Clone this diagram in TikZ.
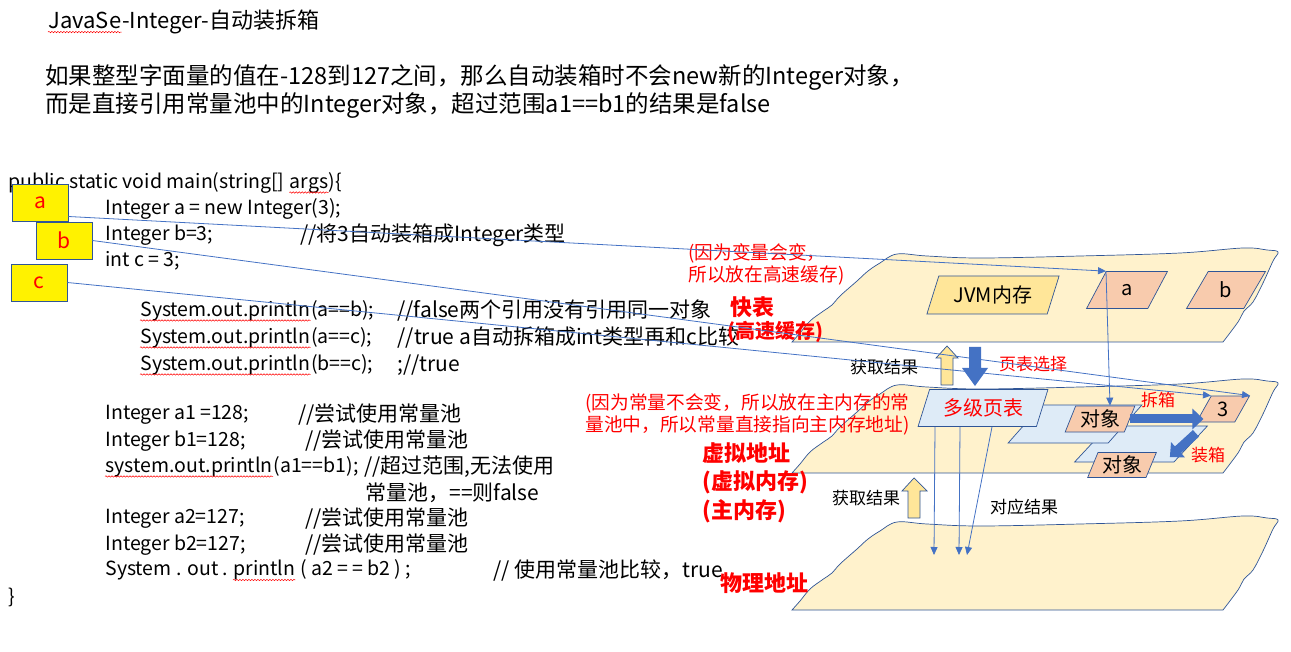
\documentclass[tikz,border=0pt]{standalone}
\usepackage{fontspec}
\setmainfont{Noto Sans CJK SC}
\usetikzlibrary{shapes.geometric,arrows.meta,decorations.pathmorphing}

\definecolor{sheetfill}{HTML}{FFF2CC}
\definecolor{sheetline}{HTML}{2F5597}
\definecolor{jvmfill}{HTML}{FFE699}
\definecolor{peach}{HTML}{F8CBAD}
\definecolor{pgblue}{HTML}{DEEBF7}
\definecolor{linkblue}{HTML}{4472C4}

\begin{document}
\begin{tikzpicture}[x=1pt,y=-1pt,>={Triangle[length=8pt,width=7pt]},line width=.8pt,
  codetxt/.style={anchor=west,inner sep=0pt,font=\fontsize{19.5}{22}\selectfont},
  nexttxt/.style={anchor=base west,inner sep=0pt,font=\fontsize{19.5}{22}\selectfont},
  cmt/.style={anchor=west,inner sep=0pt,font=\fontsize{21}{24}\selectfont},
  redtxt/.style={anchor=west,inner sep=0pt,align=left,text=red,font=\fontsize{18.7}{22}\selectfont},
  bigred/.style={anchor=west,inner sep=0pt,text=red,font=\bfseries\fontsize{22}{26}\selectfont},
  small/.style={inner sep=0pt,font=\fontsize{17}{20}\selectfont},
  ybox/.style={draw=sheetline,fill=yellow,text=red,minimum width=56pt,minimum height=37pt,font=\fontsize{21}{24}\selectfont},
  sheet/.style={draw=sheetline,fill=sheetfill,line width=.7pt},
  slant/.style={trapezium,trapezium left angle=65,trapezium right angle=115,trapezium stretches=true,
    draw=sheetline,line width=.7pt,inner sep=0pt,font=\fontsize{20}{24}\selectfont},
  link/.style={->,draw=linkblue,line width=.8pt},
  spellwave/.style={draw=red,line width=.5pt,decorate,decoration={snake,amplitude=.7pt,segment length=3pt}},
  fatblue/.style={draw=linkblue,line width=9pt,-{Triangle[length=11pt,width=20pt]}},
  fatyel/.style={draw=sheetline,fill=jvmfill,line width=.7pt},
  fatdown/.style={fill=linkblue}]
\useasboundingbox (0,0) rectangle (1291,652);

% heading
\node[anchor=west,inner sep=0pt,font=\fontsize{22}{26}\selectfont] (title) at (48,20) {JavaSe};
\node[nexttxt,font=\fontsize{22}{26}\selectfont] (title2) at (title.base east) {-Integer-自动装拆箱};
\node[anchor=west,inner sep=0pt,align=left,font=\fontsize{23.5}{28}\selectfont] (intro) at (45,91)
  {如果整型字面量的值在-128到127之间，那么自动装箱时不会new新的Integer对象，\\
   而是直接引用常量池中的Integer对象，超过范围a1==b1的结果是false};

% code
\node[codetxt] (c0) at (8,183) {public static void main(string[]\ \null};
\node[nexttxt] (c0a) at (c0.base east) {args};
\node[nexttxt] (c0b) at (c0a.base east) {)\{};
\node[codetxt] (c1) at (105,209) {Integer a = new Integer(3);};
\node[codetxt] (c2) at (105,235) {Integer b=3;};
\node[cmt] (m2) at (300,235) {//将3自动装箱成Integer类型};
\node[codetxt] (c3) at (105,261) {int c = 3;};
\node[codetxt] (c4) at (140,311) {System.out.println};
\node[nexttxt] (c4a) at (c4.base east) {(a==b);};
\node[cmt] (m4) at (397,311) {//false两个引用没有引用同一对象};
\node[codetxt] (c5) at (140,338) {System.out.println};
\node[nexttxt] (c5a) at (c5.base east) {(a==c);};
\node[cmt] (m5) at (397,338) {//true a自动拆箱成int类型再和c比较};
\node[codetxt] (c6) at (140,365) {System.out.println};
\node[nexttxt] (c6a) at (c6.base east) {(b==c);};
\node[cmt] (m6) at (397,365) {;//true};
\node[codetxt] (c7) at (105,415) {Integer a1 =128;};
\node[cmt] (m7) at (298,415) {//尝试使用常量池};
\node[codetxt] (c8) at (105,441) {Integer b1=128;};
\node[cmt] (m8) at (305,441) {//尝试使用常量池};
\node[codetxt] (c9) at (105,467) {system.out.println};
\node[nexttxt] (c9a) at (c9.base east) {(a1==b1);};
\node[cmt] (m9) at (364,467) {//超过范围,无法使用};
\node[cmt] (m9b) at (365,493) {常量池，==则false};
\node[codetxt] (c10) at (105,519) {Integer a2=127;};
\node[cmt] (m10) at (305,519) {//尝试使用常量池};
\node[codetxt] (c11) at (105,545) {Integer b2=127;};
\node[cmt] (m11) at (305,545) {//尝试使用常量池};
\node[codetxt] (c12) at (105,571) {System . out .\ \null};
\node[nexttxt] (c12a) at (c12.base east) {println};
\node[nexttxt] (c12b) at (c12a.base east) {\null\ ( a2 = = b2 ) ;};
\node[cmt] (m12) at (493,571) {// 使用常量池比较，true};
\node[codetxt] (c13) at (8,597) {\}};

% spell check waves
\foreach \w in {title,c0a,c4,c5,c6,c9,c12a}
  \draw[spellwave] ([yshift=-4pt]\w.base west) -- ([yshift=-4pt]\w.base east);

% three sheets
\foreach \dy in {0,131,268}
  \filldraw[sheet,shift={(0,\dy)}] plot[smooth,tension=.6] coordinates {(792,342) (800,333) (810,321)
    (822,312) (832,305) (840,296) (857,281) (868,271) (880,263) (897,254) (927,256) (980,258)
    (1080,256) (1180,253) (1243,248) (1267,250) (1278,252) (1273,261) (1263,283) (1253,302)
    (1244,311) (1238,322) (1223,342)} -- cycle;

% top sheet
\node[slant,fill=jvmfill,minimum width=133pt,minimum height=38pt] (jvm) at (993,295) {JVM内存};
\node[slant,fill=peach,minimum width=81pt,minimum height=37pt] (pa) at (1127,290) {a};
\node[slant,fill=peach,minimum width=79pt,minimum height=37pt] (pb) at (1226,290) {b};

% middle sheet
\node[slant,fill=pgblue,minimum width=133pt,minimum height=36pt] (pgB) at (1141,444) {\phantom{x}};
\node[slant,fill=pgblue,minimum width=134pt,minimum height=38pt] (pgA) at (1075,424) {\phantom{x}};
\node[slant,fill=pgblue,text=red,minimum width=131pt,minimum height=37pt] (ml) at (983,408) {多级页表};
\node[slant,fill=peach,minimum width=70pt,minimum height=26pt] (obj1) at (1100,419) {对象};
\node[slant,fill=peach,minimum width=69pt,minimum height=25pt] (obj2) at (1122,465) {对象};
\node[slant,fill=peach,minimum width=53pt,minimum height=26pt] (three) at (1223,409) {3};

% fat arrows
\filldraw[fatyel] (941,385) -- (941,358) -- (936,358) -- (947,346) -- (958,358) -- (953,358) -- (953,385) -- cycle;
\fill[fatdown] (969,347) -- (981,347) -- (981,368) -- (988,368) -- (975,386) -- (962,368) -- (969,368) -- cycle;
\filldraw[fatyel] (908,518) -- (908,491) -- (902,491) -- (914,478) -- (927,491) -- (920,491) -- (920,518) -- cycle;
\draw[fatblue] (obj1.east) -- (three.west |- obj1.east);
\draw[fatblue] ([shift={(0,11)}]three.bottom left corner) -- ([shift={(13,5)}]obj2.top right corner);

% labels
\node[small] (get1) at (884,367) {获取结果};
\node[small,text=red] (sel) at (1033,364) {页表选择};
\node[small,text=red] (unbox) at (1158,400) {拆箱};
\node[small,text=red] (box) at (1208,455) {装箱};
\node[small] (get2) at (866,498) {获取结果};
\node[small] (match) at (1024,507) {对应结果};
\node[redtxt] (why1) at (688,264) {(因为变量会变，\\所以放在高速缓存)};
\node[redtxt] (why2) at (585,414) {(因为常量不会变，所以放在主内存的常\\量池中，所以常量直接指向主内存地址)};
\node[bigred] (tlb) at (730,307) {快表};
\node[bigred,font=\bfseries\fontsize{20}{24}\selectfont] (cache) at (727,332) {(高速缓存)};
\node[bigred] (virt) at (702,453) {虚拟地址};
\node[bigred] (vmem) at (702,482) {(虚拟内存)};
\node[bigred] (mmem) at (702,511) {(主内存)};
\node[bigred] (phys) at (720,583) {物理地址};

% variables
\node[ybox] (ya) at (40,202.5) {a};
\node[ybox] (yb) at (64,240.5) {b};
\node[ybox] (yc) at (39,282.5) {c};

\coordinate (r1) at (934,555);
\coordinate (r2) at (959,555);
\coordinate (r3) at (967,555);

\draw[link] ([yshift=-14pt]ya.east) -- (pa.top left corner);
\draw[link] (yb.east) -- (three.top right corner);
\draw[link] (yc.east) -- (three.top left corner);
\draw[link] (pa.top left corner) -- ([xshift=10pt]obj1.north);
\draw[link] ([xshift=-48pt]ml.south) -- (r1);
\draw[link] ([xshift=-23pt]ml.south) -- (r2);
\draw[link] ([xshift=9pt]ml.south) -- (r3);
\end{tikzpicture}
\end{document}
